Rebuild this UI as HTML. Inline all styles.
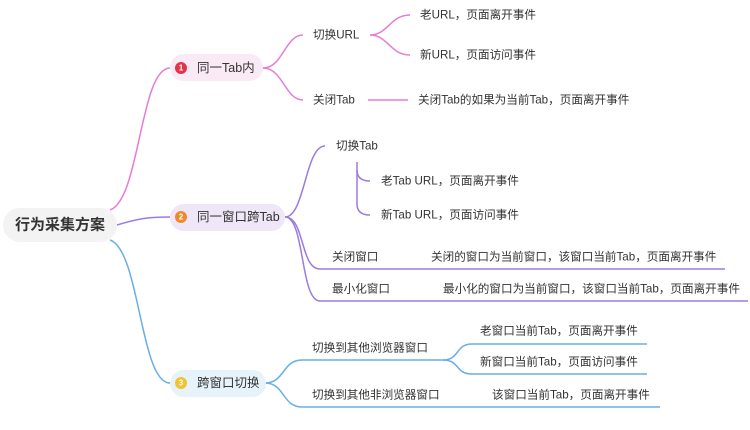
<!DOCTYPE html>
<html><head><meta charset="utf-8"><style>
body{margin:0;background:#fff;}
svg text{font-family:"Liberation Sans","Noto Sans CJK SC",sans-serif;fill:#333;font-size:11.6px;dominant-baseline:central;}
</style></head><body>
<svg width="750" height="425" xmlns="http://www.w3.org/2000/svg">
<g fill="none" stroke-width="1.5">
<path d="M110 210 C140 200,140 68,170 68" stroke="#e87bd6"/>
<path d="M263 68 C283 68,285 35,303 35" stroke="#e87bd6"/>
<path d="M263 68 C283 68,285 100,303 100" stroke="#e87bd6"/>
<path d="M370 35 C388 35,390 15,410 15" stroke="#e87bd6"/>
<path d="M370 35 C388 35,390 55,410 55" stroke="#e87bd6"/>
<path d="M368 100 H408" stroke="#e87bd6"/>
<path d="M117 225 C140 218,150 217,170 217" stroke="#9b7be0"/>
<path d="M285 217 C305 217,305 146,325 146" stroke="#9b7be0"/>
<path d="M357 162 V170 C357 178,362 181,370 181" stroke="#9b7be0"/>
<path d="M357 170 V204 C357 212,362 215,370 215" stroke="#9b7be0"/>
<path d="M285 217 C305 217,300 269,320 269 H725" stroke="#9b7be0"/>
<path d="M285 217 C305 217,300 301,320 301 H748" stroke="#9b7be0"/>
<path d="M110 240 C140 250,140 383,170 383" stroke="#6aaee6"/>
<path d="M265 383 C285 383,282 360,302 360 H445" stroke="#6aaee6"/>
<path d="M265 383 C285 383,282 407,302 407 H660" stroke="#6aaee6"/>
<path d="M443 360 C460 360,455 344,472 344 H647" stroke="#6aaee6"/>
<path d="M443 360 C460 360,455 374,472 374 H647" stroke="#6aaee6"/>
</g>
<rect x="3" y="208" width="114" height="34" rx="17" fill="#f3f3f3"/>
<text x="60" y="225" text-anchor="middle" style="font-size:15px;font-weight:bold;fill:#333">行为采集方案</text>

<rect x="170" y="54" width="93" height="27" rx="13.5" fill="#f9eaf5"/>
<circle cx="181" cy="68" r="6" fill="#e0364a"/><text x="181" y="68" text-anchor="middle" style="font-size:8px;fill:#fff;font-weight:bold">1</text>
<text x="197" y="68" style="font-size:12.5px">同一Tab内</text>

<rect x="170" y="204" width="115" height="27" rx="13.5" fill="#efe7f7"/>
<circle cx="181" cy="217" r="6" fill="#ee8a2c"/><text x="181" y="217" text-anchor="middle" style="font-size:8px;fill:#fff;font-weight:bold">2</text>
<text x="197" y="217" style="font-size:12.5px">同一窗口跨Tab</text>

<rect x="170" y="370" width="96" height="27" rx="13.5" fill="#e6f3fb"/>
<circle cx="181" cy="383" r="6" fill="#f2c230"/><text x="181" y="383" text-anchor="middle" style="font-size:8px;fill:#fff;font-weight:bold">3</text>
<text x="197" y="383" style="font-size:12.5px">跨窗口切换</text>

<text x="313" y="35">切换URL</text>
<text x="313" y="100">关闭Tab</text>
<text x="420" y="15">老URL，页面离开事件</text>
<text x="420" y="55">新URL，页面访问事件</text>
<text x="418" y="100">关闭Tab的如果为当前Tab，页面离开事件</text>

<text x="336" y="146">切换Tab</text>
<text x="381" y="181">老Tab URL，页面离开事件</text>
<text x="381" y="215">新Tab URL，页面访问事件</text>
<text x="332" y="257">关闭窗口</text>
<text x="431" y="257">关闭的窗口为当前窗口，该窗口当前Tab，页面离开事件</text>
<text x="332" y="289">最小化窗口</text>
<text x="443" y="289">最小化的窗口为当前窗口，该窗口当前Tab，页面离开事件</text>

<text x="312" y="348">切换到其他浏览器窗口</text>
<text x="480" y="331">老窗口当前Tab，页面离开事件</text>
<text x="480" y="362">新窗口当前Tab，页面访问事件</text>
<text x="312" y="395">切换到其他非浏览器窗口</text>
<text x="492" y="395">该窗口当前Tab，页面离开事件</text>
</svg>
</body></html>
